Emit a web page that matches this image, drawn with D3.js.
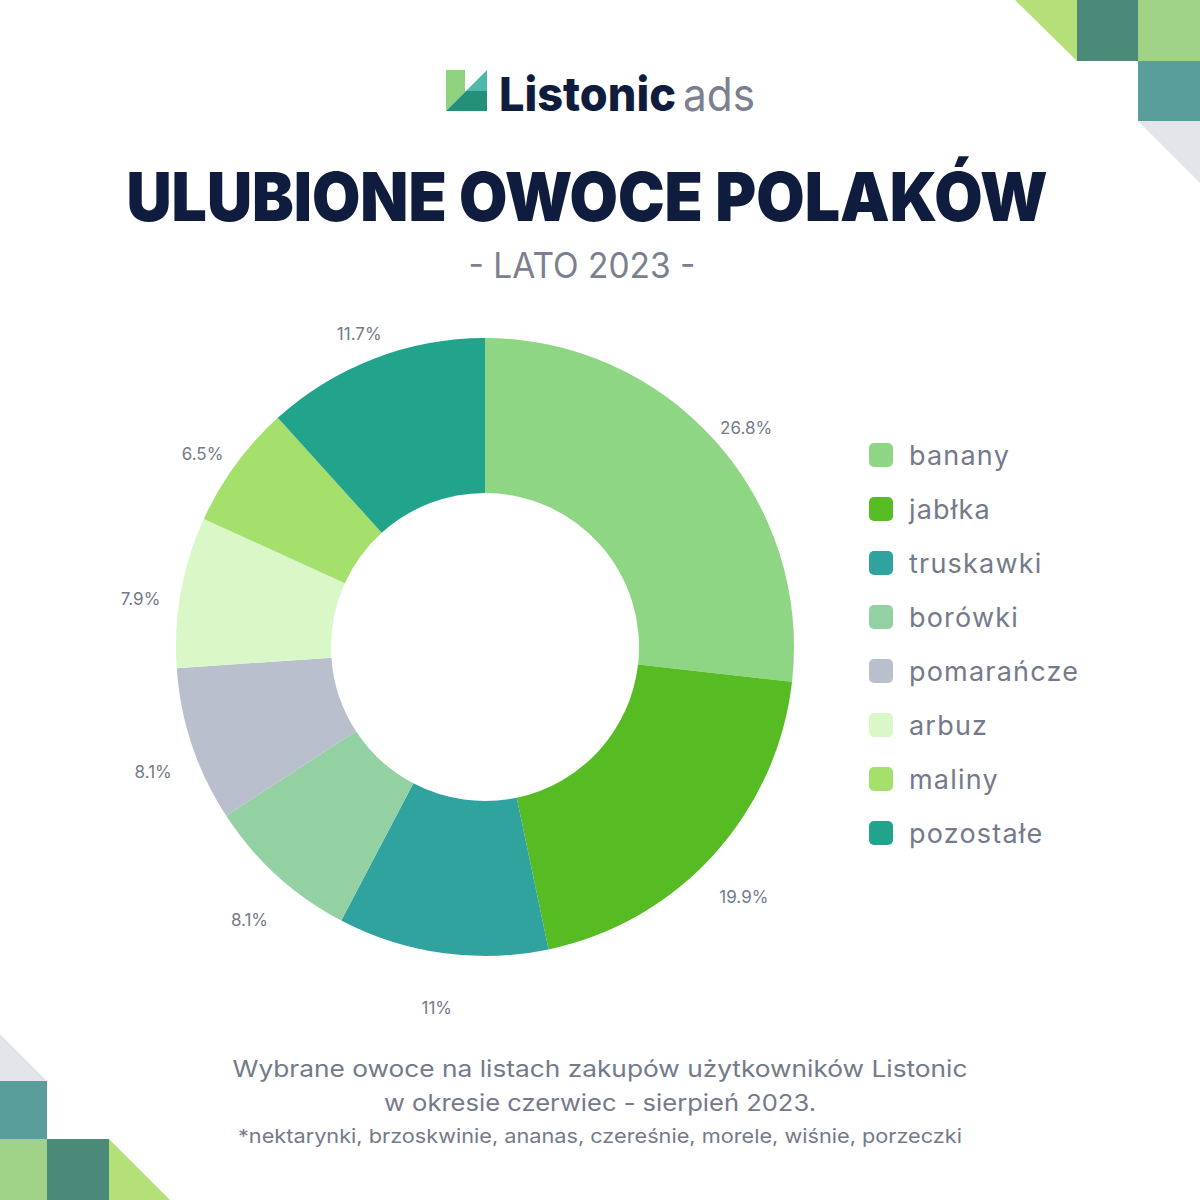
<!DOCTYPE html>
<html><head><meta charset="utf-8">
<script src="https://cdn.jsdelivr.net/npm/d3@7"></script>
<style>html,body{margin:0;padding:0;background:#fff;}svg{display:block;}</style>
</head><body>
<svg id="chart" width="1200" height="1200"></svg>
<script>
const categories = ["banany","jabłka","truskawki","borówki","pomarańcze","arbuz","maliny","pozostałe"];
const values = [26.8, 19.9, 11, 8.1, 8.1, 7.9, 6.5, 11.7];
const valueLabels = ["26.8%","19.9%","11%","8.1%","8.1%","7.9%","6.5%","11.7%"];
const colors = ["#8fd684","#57bc23","#31a39f","#93d1a3","#babfce","#daf7c8","#a5e06c","#21a38c"];

const svg = d3.select("#chart");
const grey = "#747a8a";
const navy = "#0f1c3d";

// corner decorations
const deco = svg.append("g");
deco.append("polygon").attr("points","1015,0 1077,0 1077,61").attr("fill","#b5df78");
deco.append("rect").attr("x",1077).attr("y",0).attr("width",61).attr("height",61).attr("fill","#4b8a78");
deco.append("rect").attr("x",1138).attr("y",0).attr("width",62).attr("height",61).attr("fill","#a0d388");
deco.append("rect").attr("x",1138).attr("y",61).attr("width",62).attr("height",60).attr("fill","#5a9e9c");
deco.append("polygon").attr("points","1138,121 1200,121 1200,183").attr("fill","#e4e5ea");
deco.append("polygon").attr("points","-15,1019 47,1081 -15,1081").attr("fill","#e4e5ea");
deco.append("rect").attr("x",-15).attr("y",1081).attr("width",62).attr("height",58).attr("fill","#5a9e9c");
deco.append("rect").attr("x",-15).attr("y",1139).attr("width",62).attr("height",61).attr("fill","#a0d388");
deco.append("rect").attr("x",47).attr("y",1139).attr("width",62).attr("height",61).attr("fill","#4b8a78");
deco.append("polygon").attr("points","109,1139 109,1200 170,1200").attr("fill","#b5df78");

// logo
const logo = svg.append("g");
logo.append("polygon").attr("points","446,70 465,70 465,92 446,111").attr("fill","#8ed27f");
logo.append("polygon").attr("points","446,111 466,91 487,91 487,111").attr("fill","#23907a");
logo.append("polygon").attr("points","466,91 487,70 487,91").attr("fill","#4fb8ad");
logo.append("text").attr("x",499).attr("y",111).attr("font-family","Inter, 'Noto Sans', sans-serif")
  .attr("font-weight",800).attr("font-size",47).attr("fill",navy)
  .attr("textLength",177).attr("lengthAdjust","spacingAndGlyphs").text("Listonic");
logo.append("text").attr("x",683).attr("y",111).attr("font-family","Inter, 'Noto Sans', sans-serif")
  .attr("font-weight",400).attr("font-size",46).attr("fill","#7b8090")
  .attr("textLength",72).attr("lengthAdjust","spacingAndGlyphs").text("ads");

// title
svg.append("text").attr("x",587).attr("y",221).attr("text-anchor","middle")
  .attr("font-family","Inter, 'Noto Sans', sans-serif").attr("font-weight",900).attr("font-size",68)
  .attr("fill",navy).attr("textLength",921).attr("lengthAdjust","spacingAndGlyphs")
  .text("ULUBIONE OWOCE POLAKÓW");
svg.append("text").attr("x",582).attr("y",278).attr("text-anchor","middle")
  .attr("font-family","Inter, 'Noto Sans', sans-serif").attr("font-weight",400).attr("font-size",35)
  .attr("fill","#7b8090").attr("textLength",227).attr("lengthAdjust","spacingAndGlyphs")
  .text("- LATO 2023 -");

// donut
const cx = 485, cy = 647, R = 309, r0 = 154;
const pie = d3.pie().sort(null).value(d => d.v);
const data = pie(categories.map((c,i)=>({c, v: values[i], label: valueLabels[i], color: colors[i]})));
const arc = d3.arc().innerRadius(r0).outerRadius(R);
const g = svg.append("g").attr("transform",`translate(${cx},${cy})`);
g.selectAll("path").data(data).enter().append("path")
  .attr("d",arc).attr("fill",d=>d.data.color).attr("stroke","none");
const labelArc = d3.arc().innerRadius(350).outerRadius(350);
g.selectAll("text.lbl").data(data).enter().append("text").attr("class","lbl")
  .attr("x",d=>labelArc.centroid(d)[0]).attr("y",d=>labelArc.centroid(d)[1]+20)
  .attr("text-anchor","middle").attr("font-family","Inter, 'Noto Sans', sans-serif")
  .attr("font-size",17).attr("fill",grey).text(d=>d.data.label);

// legend
const lg = svg.append("g").attr("transform","translate(869,443)");
const rows = lg.selectAll("g").data(categories).enter().append("g")
  .attr("transform",(d,i)=>`translate(0,${i*54})`);
rows.append("rect").attr("width",24).attr("height",24).attr("rx",5)
  .attr("fill",(d,i)=>colors[i]);
rows.append("text").attr("x",40).attr("y",22).attr("font-family","Inter, 'Noto Sans', sans-serif")
  .attr("font-size",27).attr("letter-spacing",1.2).attr("fill",grey).text(d=>d);

// footer
const foot = svg.append("g").attr("font-family","Inter, 'Noto Sans', sans-serif").attr("fill",grey).attr("text-anchor","middle");
foot.append("text").attr("x",600).attr("y",1077).attr("font-size",23)
  .attr("textLength",735).attr("lengthAdjust","spacingAndGlyphs")
  .text("Wybrane owoce na listach zakupów użytkowników Listonic");
foot.append("text").attr("x",600).attr("y",1111).attr("font-size",23)
  .attr("textLength",432).attr("lengthAdjust","spacingAndGlyphs")
  .text("w okresie czerwiec - sierpień 2023.");
foot.append("text").attr("x",600).attr("y",1143).attr("font-size",19)
  .attr("textLength",724).attr("lengthAdjust","spacingAndGlyphs")
  .text("*nektarynki, brzoskwinie, ananas, czereśnie, morele, wiśnie, porzeczki");
</script>
</body></html>
